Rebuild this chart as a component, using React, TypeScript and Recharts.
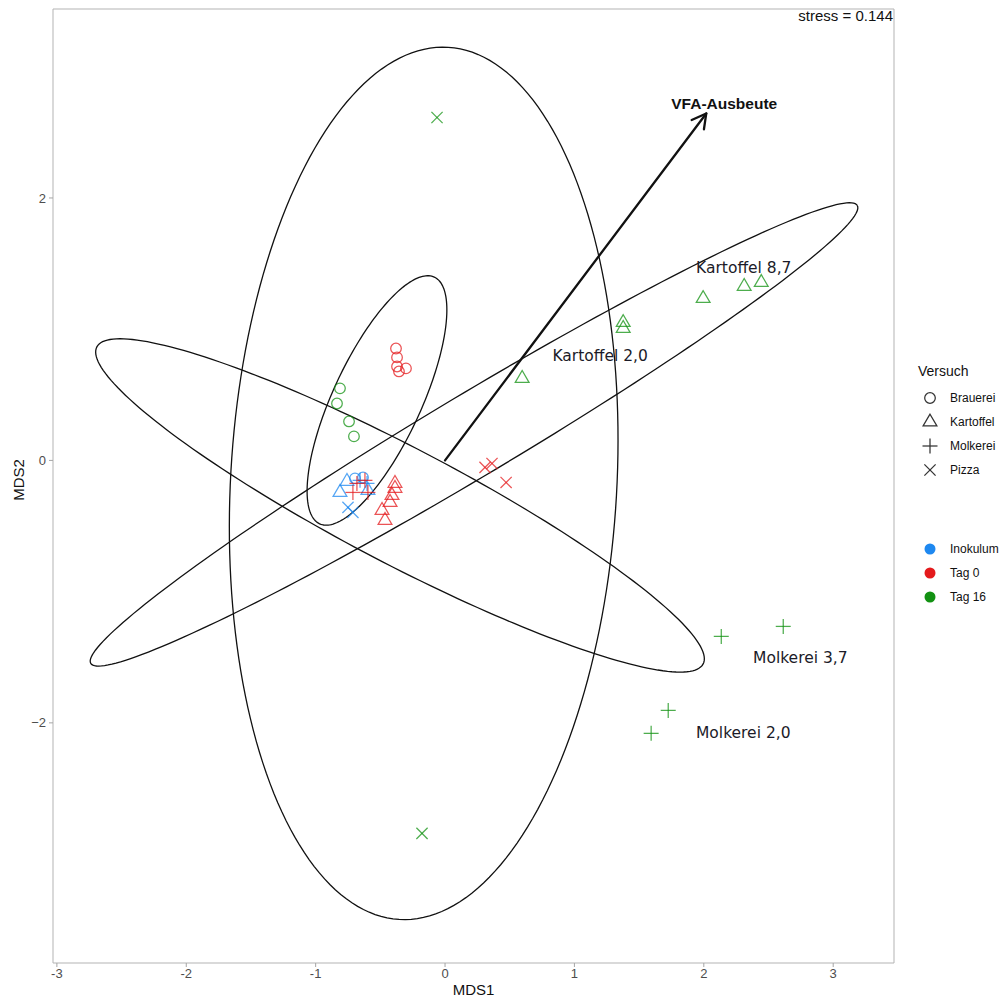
import React from 'react';
import { ScatterChart, Scatter, XAxis, YAxis, ReferenceArea, ReferenceLine } from 'recharts';

if (typeof document !== 'undefined') {
  document.body.style.margin = '8px 0px 0px 8px';
}

// ---------- data ----------
const xTicks = [-3, -2, -1, 0, 1, 2, 3];
const yTicks = [-2, 0, 2];
const X_DOMAIN: [number, number] = [-3.03, 3.47];
const Y_DOMAIN: [number, number] = [-3.83, 3.44];

const versuchLevels = ['Brauerei', 'Kartoffel', 'Molkerei', 'Pizza'];
const tagLevels = ['Inokulum', 'Tag 0', 'Tag 16'];

const brauerei = [
  { x: -0.696, y: -0.137, tag: 'Inokulum' },
  { x: -0.634, y: -0.130, tag: 'Inokulum' },
  { x: -0.379, y: 0.853, tag: 'Tag 0' },
  { x: -0.371, y: 0.785, tag: 'Tag 0' },
  { x: -0.371, y: 0.716, tag: 'Tag 0' },
  { x: -0.356, y: 0.678, tag: 'Tag 0' },
  { x: -0.302, y: 0.701, tag: 'Tag 0' },
  { x: -0.812, y: 0.549, tag: 'Tag 16' },
  { x: -0.835, y: 0.434, tag: 'Tag 16' },
  { x: -0.742, y: 0.297, tag: 'Tag 16' },
  { x: -0.704, y: 0.183, tag: 'Tag 16' },
];

const kartoffel = [
  { x: -0.812, y: -0.244, tag: 'Inokulum' },
  { x: -0.758, y: -0.160, tag: 'Inokulum' },
  { x: -0.596, y: -0.229, tag: 'Inokulum' },
  { x: -0.387, y: -0.175, tag: 'Tag 0' },
  { x: -0.387, y: -0.213, tag: 'Tag 0' },
  { x: -0.410, y: -0.267, tag: 'Tag 0' },
  { x: -0.425, y: -0.320, tag: 'Tag 0' },
  { x: -0.487, y: -0.381, tag: 'Tag 0' },
  { x: -0.464, y: -0.457, tag: 'Tag 0' },
  { x: 0.596, y: 0.625, tag: 'Tag 16' },
  { x: 1.377, y: 1.051, tag: 'Tag 16' },
  { x: 1.377, y: 1.006, tag: 'Tag 16' },
  { x: 1.995, y: 1.234, tag: 'Tag 16' },
  { x: 2.312, y: 1.326, tag: 'Tag 16' },
  { x: 2.444, y: 1.356, tag: 'Tag 16' },
];

const molkerei = [
  { x: -0.603, y: -0.175, tag: 'Inokulum' },
  { x: -0.657, y: -0.152, tag: 'Inokulum' },
  { x: -0.681, y: -0.175, tag: 'Tag 0' },
  { x: -0.619, y: -0.152, tag: 'Tag 0' },
  { x: -0.712, y: -0.244, tag: 'Tag 0' },
  { x: -0.596, y: -0.244, tag: 'Tag 0' },
  { x: 2.614, y: -1.265, tag: 'Tag 16' },
  { x: 2.135, y: -1.341, tag: 'Tag 16' },
  { x: 1.725, y: -1.905, tag: 'Tag 16' },
  { x: 1.593, y: -2.080, tag: 'Tag 16' },
];

const pizza = [
  { x: -0.750, y: -0.358, tag: 'Inokulum' },
  { x: -0.712, y: -0.396, tag: 'Inokulum' },
  { x: 0.363, y: -0.023, tag: 'Tag 0' },
  { x: 0.309, y: -0.053, tag: 'Tag 0' },
  { x: 0.472, y: -0.168, tag: 'Tag 0' },
  { x: -0.062, y: 2.613, tag: 'Tag 16' },
  { x: -0.178, y: -2.842, tag: 'Tag 16' },
];

// confidence ellipses: centre and two conjugate semi-axis vectors (data units)
const ellipseParams = [
  { versuch: 'Brauerei', cx: -0.526, cy: 0.457, ux: 0.443, uy: 0.940, vx: 0.309, vy: -0.141 },
  { versuch: 'Kartoffel', cx: 0.224, cy: 0.198, ux: 2.962, uy: 1.745, vx: 0.163, vy: -0.268 },
  { versuch: 'Molkerei', cx: -0.348, cy: -0.343, ux: 2.343, uy: -1.208, vx: -0.208, vy: -0.392 },
  { versuch: 'Pizza', cx: -0.165, cy: -0.175, ux: 0.19, uy: 3.323, vx: 1.49, vy: -0.09 },
];

const vfaArrow = { x1: 0, y1: 0, x2: 2.019, y2: 2.644, labelX: 2.158, labelY: 2.72, label: 'VFA-Ausbeute' };

const groupLabels = [
  { x: 2.309, y: 1.463, text: 'Kartoffel 8,7' },
  { x: 1.199, y: 0.792, text: 'Kartoffel 2,0' },
  { x: 2.746, y: -1.509, text: 'Molkerei 3,7' },
  { x: 2.305, y: -2.080, text: 'Molkerei 2,0' },
];

const stressText = 'stress = 0.144';

// ---------- styles ----------
const tagColor: Record<string, string> = {
  Inokulum: '#1E88F0',
  'Tag 0': '#E41A1C',
  'Tag 16': '#129112',
};
const POINT_ALPHA = 0.75;
const AXIS_FONT = "'Liberation Sans', Arial, sans-serif";
const LABEL_FONT = "'DejaVu Sans', Verdana, sans-serif";

function ellipseOutline(p: typeof ellipseParams[number]) {
  const n = 200;
  const pts: { x: number; y: number }[] = [];
  for (let i = 0; i <= n; i++) {
    const t = (i / n) * Math.PI * 2;
    pts.push({
      x: p.cx + p.ux * Math.cos(t) + p.vx * Math.sin(t),
      y: p.cy + p.uy * Math.cos(t) + p.vy * Math.sin(t),
    });
  }
  return pts;
}

function Marker({ kind, cx, cy, color, opacity = 1 }: { kind: string; cx: number; cy: number; color: string; opacity?: number }) {
  const sw = 1.25;
  if (kind === 'Brauerei') {
    return <circle cx={cx} cy={cy} r={5.3} fill="none" stroke={color} strokeWidth={sw} strokeOpacity={opacity} />;
  }
  if (kind === 'Kartoffel') {
    const s = 6.9;
    const h = 11.8;
    return (
      <polygon
        points={`${cx},${cy - (2 * h) / 3} ${cx - s},${cy + h / 3} ${cx + s},${cy + h / 3}`}
        fill="none"
        stroke={color}
        strokeWidth={sw}
        strokeOpacity={opacity}
      />
    );
  }
  if (kind === 'Molkerei') {
    const d = 7.5;
    return (
      <g stroke={color} strokeWidth={sw} strokeOpacity={opacity}>
        <line x1={cx - d} y1={cy} x2={cx + d} y2={cy} />
        <line x1={cx} y1={cy - d} x2={cx} y2={cy + d} />
      </g>
    );
  }
  const d = 5.6;
  return (
    <g stroke={color} strokeWidth={sw} strokeOpacity={opacity}>
      <line x1={cx - d} y1={cy - d} x2={cx + d} y2={cy + d} />
      <line x1={cx - d} y1={cy + d} x2={cx + d} y2={cy - d} />
    </g>
  );
}

const makeShape = (kind: string) => (props: any) => {
  const { cx, cy, payload } = props;
  if (cx == null || cy == null) return <g />;
  return <Marker kind={kind} cx={cx} cy={cy} color={tagColor[payload.tag]} opacity={POINT_ALPHA} />;
};

const emptyShape = () => <g />;

const labelShape = (props: any) => {
  const { cx, cy, payload } = props;
  return (
    <text x={cx} y={cy} textAnchor="middle" dominantBaseline="central" fontFamily={LABEL_FONT} fontSize={15.5} fill="#1b1b28">
      {payload.text}
    </text>
  );
};

const vfaLabelShape = (props: any) => {
  const { cx, cy, payload } = props;
  return (
    <text x={cx} y={cy} textAnchor="middle" dominantBaseline="central" fontFamily={AXIS_FONT} fontWeight="bold" fontSize={15.5} fill="#111">
      {payload.text}
    </text>
  );
};

const arrowShape = (props: any) => {
  const { x1, y1, x2, y2 } = props;
  if ([x1, y1, x2, y2].some((v) => v == null || isNaN(v))) return <g />;
  const a = Math.atan2(y2 - y1, x2 - x1);
  const L = 16;
  const w = 0.5;
  const ax = x2 - L * Math.cos(a - w);
  const ay = y2 - L * Math.sin(a - w);
  const bx = x2 - L * Math.cos(a + w);
  const by = y2 - L * Math.sin(a + w);
  return (
    <g stroke="#111" strokeWidth={2.3} fill="none" strokeLinecap="round" strokeLinejoin="round">
      <line x1={x1} y1={y1} x2={x2} y2={y2} />
      <polyline points={`${ax},${ay} ${x2},${y2} ${bx},${by}`} />
    </g>
  );
};

const versuchData: Record<string, typeof brauerei> = {
  Brauerei: brauerei,
  Kartoffel: kartoffel,
  Molkerei: molkerei,
  Pizza: pizza,
};

const W = 987;
const H = 992;
const OUTER_W = 995;

export default function App() {
  const legendX = 922;
  const shapeRows = [390, 414, 438, 462];
  const colorRows = [541, 565, 589];
  return (
    <div style={{ position: 'relative', width: OUTER_W, height: H }}>
      <ScatterChart width={W} height={H} margin={{ top: 1, right: 101, bottom: 8, left: 0 }}>
        <XAxis
          type="number"
          dataKey="x"
          domain={X_DOMAIN}
          allowDataOverflow
          ticks={xTicks}
          height={29}
          axisLine={false}
          tickSize={4}
          tickMargin={2}
          tickLine={{ stroke: '#a6a6a6' }}
          tick={{ fill: '#4d4d4d', fontSize: 13, fontFamily: AXIS_FONT }}
          tickFormatter={(v: number) => String(v)}
        />
        <YAxis
          type="number"
          dataKey="y"
          domain={Y_DOMAIN}
          allowDataOverflow
          ticks={yTicks}
          width={45}
          axisLine={false}
          tickSize={4}
          tickMargin={3}
          tickLine={{ stroke: '#a6a6a6' }}
          tick={{ fill: '#4d4d4d', fontSize: 13, fontFamily: AXIS_FONT }}
          tickFormatter={(v: number) => (v < 0 ? '\u2212' + Math.abs(v) : String(v))}
        />
        <ReferenceArea
          x1={X_DOMAIN[0]}
          x2={X_DOMAIN[1]}
          y1={Y_DOMAIN[0]}
          y2={Y_DOMAIN[1]}
          fill="none"
          fillOpacity={0}
          stroke="#b3b3b3"
          strokeWidth={1}
          ifOverflow="visible"
        />
        {ellipseParams.map((p) => (
          <Scatter
            key={'ell-' + p.versuch}
            data={ellipseOutline(p)}
            line={{ stroke: '#111', strokeWidth: 1.3 }}
            lineType="joint"
            shape={emptyShape}
            isAnimationActive={false}
            legendType="none"
          />
        ))}
        {versuchLevels.map((v) => (
          <Scatter key={'pts-' + v} data={versuchData[v]} shape={makeShape(v)} isAnimationActive={false} />
        ))}
        <ReferenceLine
          segment={[
            { x: vfaArrow.x1, y: vfaArrow.y1 },
            { x: vfaArrow.x2, y: vfaArrow.y2 },
          ]}
          ifOverflow="visible"
          shape={arrowShape}
        />
        <Scatter
          data={[{ x: vfaArrow.labelX, y: vfaArrow.labelY, text: vfaArrow.label }]}
          shape={vfaLabelShape}
          isAnimationActive={false}
        />
        <Scatter data={groupLabels} shape={labelShape} isAnimationActive={false} />
      </ScatterChart>
      <svg
        width={OUTER_W}
        height={H}
        style={{ position: 'absolute', left: 0, top: 0, overflow: 'visible', pointerEvents: 'none' }}
      >
        <text x={885} y={13} textAnchor="end" fontFamily={AXIS_FONT} fontSize={15} fill="#111">
          {stressText}
        </text>
        <text x={465.5} y={987} textAnchor="middle" fontFamily={AXIS_FONT} fontSize={15} fill="#111">
          MDS1
        </text>
        <text
          x={10}
          y={472}
          textAnchor="middle"
          dominantBaseline="central"
          transform="rotate(-90 10 472)"
          fontFamily={AXIS_FONT}
          fontSize={15}
          fill="#111"
        >
          MDS2
        </text>
        <text x={910} y={368} fontFamily={AXIS_FONT} fontSize={14} fill="#111">
          Versuch
        </text>
        {versuchLevels.map((v, i) => (
          <g key={'lg-' + v}>
            <Marker kind={v} cx={legendX} cy={shapeRows[i]} color="#333" />
            <text x={942} y={shapeRows[i] + 4} fontFamily={AXIS_FONT} fontSize={12} fill="#111">
              {v}
            </text>
          </g>
        ))}
        {tagLevels.map((t, i) => (
          <g key={'lc-' + t}>
            <circle cx={legendX} cy={colorRows[i]} r={5.5} fill={tagColor[t]} />
            <text x={942} y={colorRows[i] + 4} fontFamily={AXIS_FONT} fontSize={12} fill="#111">
              {t}
            </text>
          </g>
        ))}
      </svg>
    </div>
  );
}
